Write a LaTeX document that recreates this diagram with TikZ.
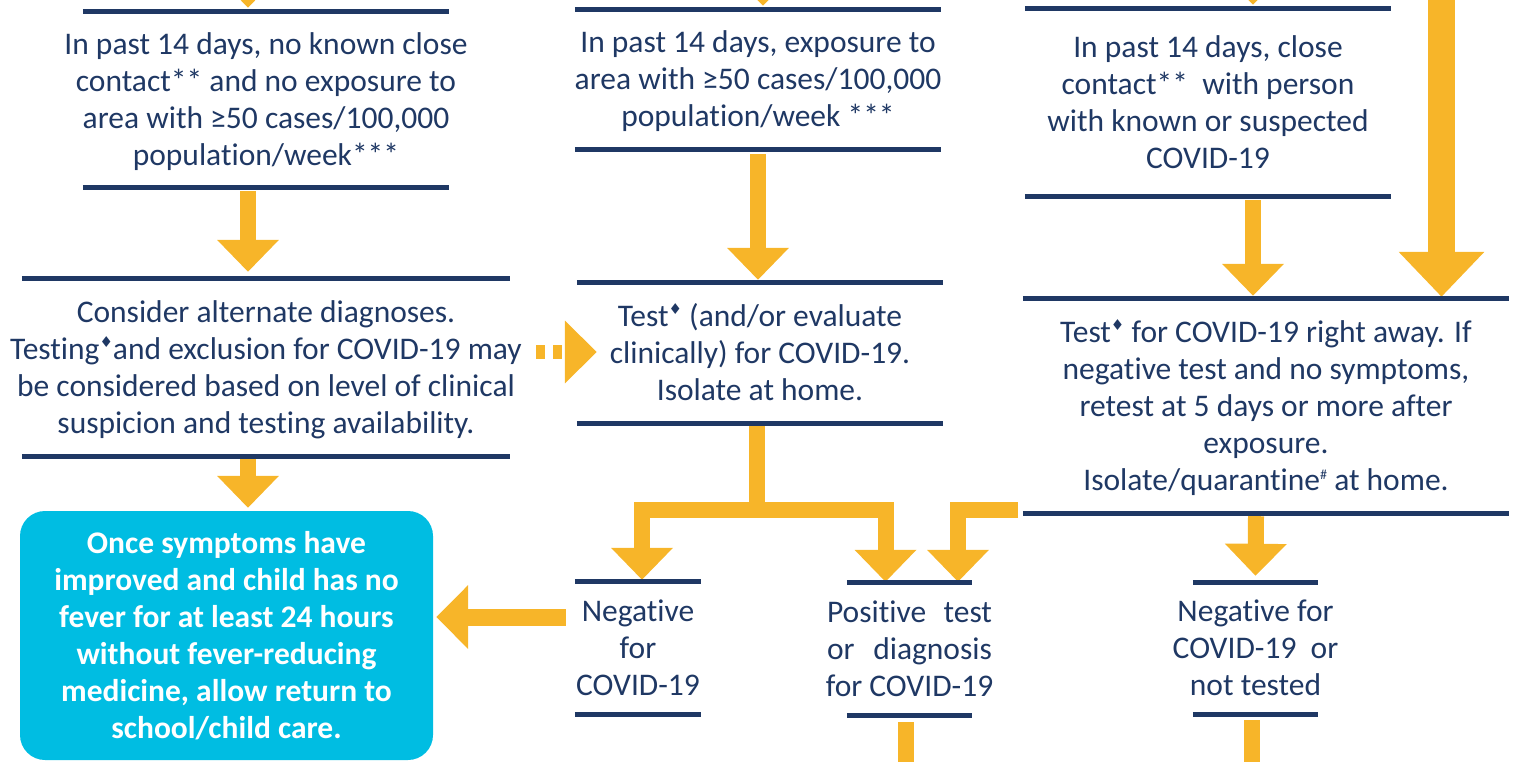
\documentclass[tikz,border=0pt]{standalone}
\usepackage{fontspec}
\setmainfont[Ligatures=NoCommon]{Carlito}
\newfontfamily\symfont{DejaVu Sans}
\usetikzlibrary{arrows.meta}
\definecolor{navy}{RGB}{31,56,100}
\definecolor{orng}{RGB}{247,181,41}
\definecolor{cyanbox}{RGB}{0,189,226}
\newcommand\stagetext[1]{\raisebox{-3pt}[\height][\depth]{\makebox[0pt]{\begin{tabular}{@{}c@{}}#1\end{tabular}}}}
\newcommand\dmd{\raisebox{12pt}{\fontsize{15}{15}\selectfont\symfont ♦}}
\newcommand\hsh{\raisebox{11pt}{\fontsize{14}{14}\selectfont\#}}
\begin{document}
\begin{tikzpicture}[x=1pt,y=-1pt,
  stage/.style={inner sep=0pt, text=navy, font=\fontsize{31.5}{37}\selectfont},
  sepline/.style={draw=navy, line width=5pt},
  arr/.style={draw=orng, line width=16pt, -{Triangle[width=60pt,length=32pt]}},
  bar/.style={draw=orng, line width=16pt}]
\useasboundingbox (0,0) rectangle (1520,761);

% stages
\node[stage, minimum width=366pt, minimum height=175pt] (b1) at (266,99.5)
  {\stagetext{In past 14 days, no known close\\contact** and no exposure to\\area with ≥50 cases/100,000\\population/week***}};
\node[stage, minimum width=366pt, minimum height=139pt] (b2) at (758,79.5)
  {\stagetext{In past 14 days, exposure to\\area with ≥50 cases/100,000\\population/week ***}};
\node[stage, minimum width=366pt, minimum height=187pt] (b3) at (1208,102.5)
  {\stagetext{In past 14 days, close\\contact**\ \ with person\\with known or suspected\\COVID-19}};
\node[stage, minimum width=488pt, minimum height=177pt] (b4) at (266,367.5)
  {\stagetext{Consider alternate diagnoses.\\Testing\dmd and exclusion for COVID-19 may\\be considered based on level of clinical\\suspicion and testing availability.}};
\node[stage, minimum width=366pt, minimum height=140pt] (b5) at (760,353)
  {\stagetext{Test\dmd{} (and/or evaluate\\clinically) for COVID-19.\\Isolate at home.}};
\node[stage, minimum width=486pt, minimum height=214pt] (b6) at (1266,406)
  {\stagetext{Test\dmd{} for COVID-19 right away. If\\negative test and no symptoms,\\retest at 5 days or more after\\exposure.\\Isolate/quarantine\hsh{} at home.}};
\node[stage, minimum width=126pt, minimum height=132pt] (b7) at (638,648)
  {\stagetext{Negative\\for\\COVID-19}};
\node[stage, minimum width=125pt, minimum height=132pt] (b8) at (909.5,649)
  {\stagetext{\makebox[165pt][s]{Positive test}\\\makebox[165pt][s]{or diagnosis}\\for COVID-19}};
\node[stage, minimum width=125pt, minimum height=131pt] (b9) at (1255.5,648.5)
  {\stagetext{Negative for\\COVID-19\ \ or\\not tested}};
\node[fill=cyanbox, rounded corners=25pt, minimum width=413pt, minimum height=249pt,
  inner sep=0pt, text=white, font=\bfseries\fontsize{31.5}{37}\selectfont] (c) at (226.5,635.5)
  {\stagetext{Once symptoms have\\improved and child has no\\fever for at least 24 hours\\without fever-reducing\\medicine, allow return to\\school/child care.}};

% free ends
\coordinate (t1) at (248,-60);
\coordinate (t2) at (763,-60);
\coordinate (t3) at (1253,-60);
\coordinate (t4) at (1441.5,-20);
\coordinate (e8) at (906,790);
\coordinate (e9) at (1252,790);

% connectors
\draw[arr] (t1) -- ([xshift=-18pt,yshift=4pt]b1.north);
\draw[arr] (t2) -- ([xshift=5pt,yshift=4pt]b2.north);
\draw[arr] (t3) -- ([xshift=45pt,yshift=4pt]b3.north);
\draw[arr] ([xshift=-18pt,yshift=-4pt]b1.south) -- ([xshift=-18pt,yshift=7pt]b4.north);
\draw[arr] ([xshift=-18pt,yshift=-3pt]b4.south) -- ([xshift=21.5pt,yshift=3pt]c.north);
\draw[arr] ([yshift=-5pt]b2.south) -- ([xshift=-2pt,yshift=3pt]b5.north);
\draw[arr] ([xshift=45pt,yshift=-4pt]b3.south) -- ([xshift=-13pt,yshift=3pt]b6.north);
\draw[draw=orng, line width=27pt, -{Triangle[width=83pt,length=45pt]}] (t4) -- ([xshift=175.5pt,yshift=2pt]b6.north);
\draw[arr] ([xshift=-10pt,yshift=-3pt]b6.south) -- ([yshift=7pt]b9.north);
\draw[arr] ([xshift=-3pt]b5.south) -- ++(0,87) -| ([xshift=4pt,yshift=2pt]b7.north);
\draw[arr] ([xshift=-3pt]b5.south) -- ++(0,87) -| ([xshift=-24pt,yshift=1pt]b8.north);
\draw[arr] ([xshift=-5pt,yshift=3pt]b6.south west) -| ([xshift=48.5pt,yshift=1pt]b8.north);
\draw[arr, line width=17pt, -{Triangle[width=62pt,length=32pt]}] ([xshift=-9pt,yshift=31pt]b7.west) -- ([xshift=3pt,yshift=18.5pt]c.east);
\draw[draw=orng, line width=14pt, dash pattern=on 9pt off 8pt, -{Triangle[width=61pt,length=32pt]}]
  ([xshift=26pt,yshift=15.5pt]b4.east) -- ([xshift=20pt,yshift=1pt]b5.west);
\draw[bar] ([xshift=-3.5pt,yshift=-7pt]b8.south) -- (e8);
\draw[bar] ([xshift=-3.5pt,yshift=-6pt]b9.south) -- (e9);

% separator rules
\foreach \n in {b1,b2,b3,b4,b5,b6,b7,b8,b9}
  \draw[sepline] (\n.north west) -- (\n.north east) (\n.south west) -- (\n.south east);
\end{tikzpicture}
\end{document}
